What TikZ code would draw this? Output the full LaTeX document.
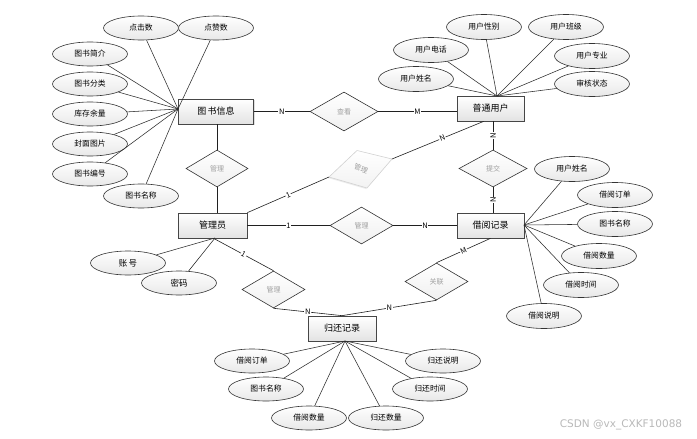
\documentclass[tikz,border=0pt]{standalone}
\usepackage{fontspec}
\newfontfamily\cjk{Noto Sans CJK SC}
\newfontfamily\wmfont{DejaVu Sans}
\usetikzlibrary{shapes.geometric,shadows}
\begin{document}
\begin{tikzpicture}[x=1pt,y=-1pt,
  ent/.style={rectangle, draw=gray!55!black, line width=0.7pt, top color=white, bottom color=gray!22,
    minimum height=25pt, inner sep=0pt, font=\cjk\fontsize{9}{10}\selectfont,
    drop shadow={opacity=0.25, shadow xshift=1pt, shadow yshift=-1pt}},
  attr/.style={ellipse, draw=gray!40!black, line width=0.6pt, top color=white, bottom color=gray!18,
    minimum width=75pt, minimum height=24pt, inner sep=0pt, font=\cjk\fontsize{7.8}{9}\selectfont},
  rel/.style={diamond, draw=gray!40!black, line width=0.6pt, top color=white, bottom color=gray!12,
    inner sep=0pt, minimum width=63pt, minimum height=37pt, font=\cjk\fontsize{7}{8}\selectfont, text=gray!75},
  card/.style={fill=white, inner sep=0.6pt, font=\cjk\fontsize{7.5}{8}\selectfont},
  conn/.style={draw=gray!25!black, line width=0.6pt},
  aline/.style={draw=gray!35!black, line width=0.55pt}]
\useasboundingbox (0,0) rectangle (697,439);
\fill[white] (0,0) rectangle (697,439);

% entities
\node[ent, minimum width=75pt] (book) at (216,111.5) {图\,书信息};
\node[ent, minimum width=67pt] (user) at (490.5,108.5) {普通用户};
\node[ent, minimum width=69pt] (admin) at (212.5,225.5) {管理员};
\node[ent, minimum width=67pt] (borrow) at (490.5,225.5) {借阅记录};
\node[ent, minimum width=68pt] (ret) at (342,328.5) {归还记录};

% relationships
\node[rel, minimum width=68pt, minimum height=39pt] (r1) at (344,111.5) {查看};
\node[rel, minimum width=62pt] (r2) at (217,168.5) {管理};
\coordinate (r3w) at (329,177);
\coordinate (r3n) at (357,150.5);
\coordinate (r3e) at (392,159);
\coordinate (r3s) at (367,188);
\path[draw=gray!35, line width=0.6pt, top color=white, bottom color=gray!10,
  drop shadow={opacity=0.15, shadow xshift=-1pt, shadow yshift=-1pt}] (r3w) -- (r3n) -- (r3e) -- (r3s) -- cycle;
\node[font=\cjk\fontsize{7}{8}\selectfont, text=gray!75, rotate=-20, inner sep=0pt] (r3) at (361,168.5) {管理};
\node[rel] (r4) at (361.5,225.5) {管理};
\node[rel, minimum width=68pt] (r5) at (493,168.5) {提交};
\node[rel] (r6) at (273.5,289.5) {管理};
\node[rel] (r7) at (436.5,281.5) {关联};

% connectors
\draw[conn] (book.east) -- (r1.west) node[card, midway] {N};
\draw[conn] (r1.east) -- (r1.east -| user.west) node[card, midway] {M};
\draw[conn] (r2.north) -- (r2.north |- book.south);
\draw[conn] (r2.south) -- (r2.south |- admin.north);
\draw[conn] (admin.north east) -- (r3w) node[card, midway, sloped] {1};
\draw[conn] (r3e) -- (user.242) node[card, pos=0.55, sloped] {N};
\draw[conn] (admin.east) -- (r4.west) node[card, midway] {1};
\draw[conn] (r4.east) -- (borrow.west) node[card, midway] {N};
\draw[conn] (r5.north) -- (r5.north |- user.south) node[card, midway, rotate=90] {N};
\draw[conn] (r5.south) -- (r5.south |- borrow.north) node[card, midway, rotate=90] {N};
\draw[conn] (admin.275) -- (r6.north) node[card, midway, sloped] {1};
\draw[conn] (r6.south) -- (ret.north) node[card, midway] {N};
\draw[conn] (borrow.south) -- (r7.north) node[card, midway, sloped] {M};
\draw[conn] (r7.south) -- (ret.north) node[card, midway] {N};

% book attributes
\coordinate (bk) at (178,109);
\node[attr] (b1) at (141,28) {点击数};
\node[attr] (b2) at (216,28) {点赞数};
\node[attr] (b3) at (90,54) {图书简介};
\node[attr] (b4) at (90,84) {图书分类};
\node[attr] (b5) at (90,114) {库存余量};
\node[attr] (b6) at (90,144) {封面图片};
\node[attr] (b7) at (90,174) {图书编号};
\node[attr] (b8) at (141,196) {图书名称};
\foreach \n in {b1,b2,b3,b4,b5,b6,b7,b8} \draw[aline] (bk) -- (\n);

% user attributes
\coordinate (us) at (497,96);
\node[attr, minimum height=25pt] (u1) at (484,27) {用户性别};
\node[attr, minimum height=25pt] (u2) at (566,27) {用户班级};
\node[attr, minimum height=25pt] (u3) at (431,50) {用户电话};
\node[attr, minimum height=25pt] (u4) at (592,56) {用户专业};
\node[attr, minimum height=25pt] (u5) at (416,79) {用户姓名};
\node[attr, minimum height=25pt] (u6) at (592,84) {审核状态};
\foreach \n in {u1,u2,u3,u4,u5,u6} \draw[aline] (us) -- (\n);

% borrow attributes
\coordinate (bo) at (524,225);
\node[attr, minimum height=25pt] (o1) at (572,169) {用户姓名};
\node[attr, minimum height=25pt] (o2) at (615,195) {借阅订单};
\node[attr, minimum height=25pt] (o3) at (615,224) {图书名称};
\node[attr, minimum height=25pt] (o4) at (599,256) {借阅数量};
\node[attr, minimum height=25pt] (o5) at (581,285) {借阅时间};
\node[attr, minimum height=25pt] (o6) at (544,316) {借阅说明};
\foreach \n in {o1,o2,o3,o4,o5,o6} \draw[aline] (bo) -- (\n);

% admin attributes
\coordinate (ad) at (215,238);
\node[attr, font=\cjk\fontsize{8.5}{10}\selectfont] (a1) at (128,263) {账\,号};
\node[attr, font=\cjk\fontsize{8.5}{10}\selectfont] (a2) at (179,283) {密码};
\foreach \n in {a1,a2} \draw[aline] (ad) -- (\n);

% return attributes
\coordinate (rt) at (345,341);
\node[attr] (t1) at (252,361) {借阅订单};
\node[attr] (t2) at (266,389) {图书名称};
\node[attr] (t3) at (309,418) {借阅数量};
\node[attr] (t4) at (386,418) {归还数量};
\node[attr] (t5) at (430,389) {归还时间};
\node[attr] (t6) at (443,361) {归还说明};
\foreach \n in {t1,t2,t3,t4,t5,t6} \draw[aline] (rt) -- (\n);

% watermark
\node[font=\wmfont\fontsize{10.5}{12}\selectfont, text=gray!55] (wm) at (621,425) {CSDN @vx\_CXKF10088};
\end{tikzpicture}
\end{document}
